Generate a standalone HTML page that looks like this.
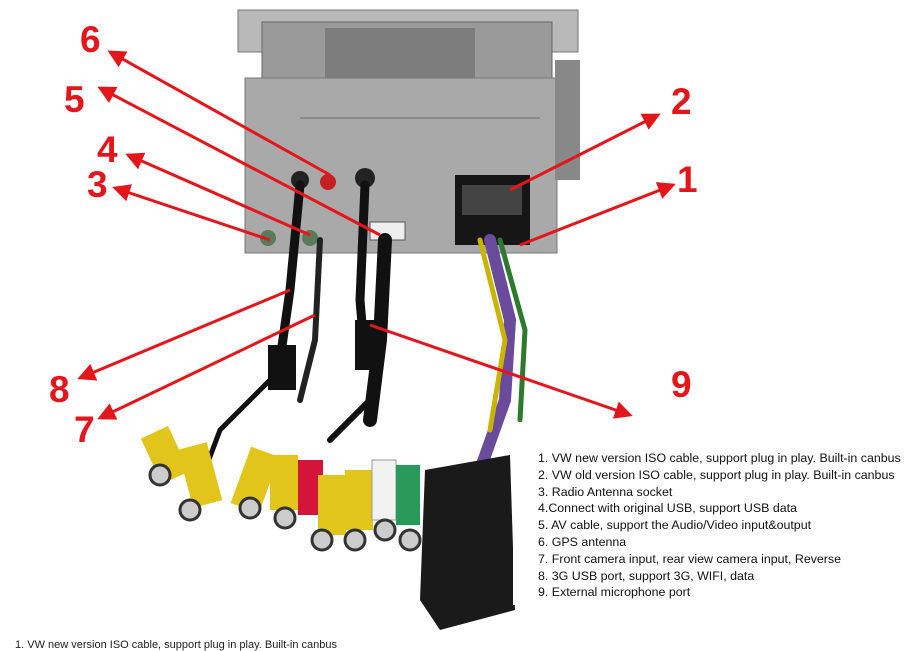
<!DOCTYPE html>
<html><head><meta charset="utf-8"><style>
body{margin:0;width:920px;height:645px;overflow:hidden;background:#fff;font-family:"Liberation Sans",sans-serif}
svg{position:absolute;left:0;top:0}
.n{font:bold 37px "Liberation Sans",sans-serif;fill:#e3161b}
#box{position:absolute;left:513px;top:422px;width:407px;height:183px;background:#fff;font-size:12.4px;line-height:16.8px;color:#111;padding:28px 0 0 25px;box-sizing:border-box}
</style></head><body>
<svg width="920" height="645" viewBox="0 0 920 645">
<rect x="238" y="10" width="340" height="42" fill="#b9b9b9" stroke="#777"/>
<rect x="262" y="22" width="290" height="58" fill="#9a9a9a" stroke="#666"/>
<rect x="325" y="28" width="150" height="50" fill="#7d7d7d"/>
<rect x="245" y="78" width="312" height="175" fill="#a9a9a9" stroke="#777"/>
<rect x="555" y="60" width="25" height="120" fill="#888"/>
<line x1="300" y1="118" x2="540" y2="118" stroke="#888" stroke-width="2"/>
<rect x="455" y="175" width="75" height="70" fill="#161616"/>
<rect x="462" y="185" width="60" height="30" fill="#444"/>
<rect x="370" y="222" width="35" height="18" fill="#eee" stroke="#555"/>
<circle cx="328" cy="182" r="8" fill="#c52020"/>
<circle cx="300" cy="180" r="9" fill="#222"/>
<circle cx="365" cy="178" r="10" fill="#222"/>
<circle cx="268" cy="238" r="8" fill="#5a7a5a"/>
<circle cx="310" cy="238" r="8" fill="#5a7a5a"/>
<g fill="none" stroke-linecap="round">
<path d="M300 185 L290 290 L280 360" stroke="#111" stroke-width="9"/>
<path d="M365 185 L360 300 L365 360" stroke="#111" stroke-width="9"/>
<path d="M385 240 L380 340 L370 420" stroke="#111" stroke-width="14"/>
<path d="M320 240 L315 340 L300 400" stroke="#222" stroke-width="6"/>
<path d="M490 240 L510 320 L505 400 L480 470" stroke="#6a4a9a" stroke-width="12"/>
<path d="M500 240 L525 330 L520 420" stroke="#2d7a2d" stroke-width="5"/>
<path d="M480 240 L505 340 L490 430" stroke="#cbb400" stroke-width="5"/>
<path d="M290 360 L220 430 L190 510" stroke="#111" stroke-width="5"/>
<path d="M370 400 L330 440" stroke="#111" stroke-width="6"/>
</g>
<rect x="268" y="345" width="28" height="45" fill="#111"/>
<rect x="355" y="320" width="20" height="50" fill="#111"/>
<g>
<rect x="150" y="430" width="30" height="50" fill="#e2c51b" transform="rotate(-25 165 455)"/>
<rect x="185" y="445" width="30" height="60" fill="#e2c51b" transform="rotate(-15 200 475)"/>
<rect x="240" y="450" width="30" height="60" fill="#e2c51b" transform="rotate(20 255 480)"/>
<rect x="270" y="455" width="28" height="55" fill="#e2c51b"/>
<rect x="298" y="460" width="25" height="55" fill="#d4143a"/>
<rect x="318" y="475" width="28" height="60" fill="#e2c51b"/>
<rect x="345" y="470" width="28" height="60" fill="#e2c51b"/>
<rect x="372" y="460" width="24" height="60" fill="#f2f2f2" stroke="#999"/>
<rect x="396" y="465" width="24" height="60" fill="#2a9a5a"/>
<circle cx="160" cy="475" r="10" fill="#ccc" stroke="#333" stroke-width="3"/>
<circle cx="190" cy="510" r="10" fill="#ccc" stroke="#333" stroke-width="3"/>
<circle cx="250" cy="508" r="10" fill="#ccc" stroke="#333" stroke-width="3"/>
<circle cx="285" cy="518" r="10" fill="#ccc" stroke="#333" stroke-width="3"/>
<circle cx="322" cy="540" r="10" fill="#ccc" stroke="#333" stroke-width="3"/>
<circle cx="355" cy="540" r="10" fill="#ccc" stroke="#333" stroke-width="3"/>
<circle cx="385" cy="530" r="10" fill="#ccc" stroke="#333" stroke-width="3"/>
<circle cx="410" cy="540" r="10" fill="#ccc" stroke="#333" stroke-width="3"/>
</g>
<path d="M425 470 L510 455 L515 610 L440 630 L420 600 Z" fill="#1a1a1a"/>
<defs><marker id="a" markerWidth="6" markerHeight="6" refX="5" refY="3" orient="auto"><path d="M0 0 L6 3 L0 6 Z" fill="#e3161b"/></marker></defs>
<g stroke="#e3161b" stroke-width="3" marker-end="url(#a)">
<line x1="330" y1="175" x2="110" y2="52"/>
<line x1="380" y1="235" x2="100" y2="88"/>
<line x1="310" y1="235" x2="128" y2="155"/>
<line x1="270" y1="240" x2="115" y2="188"/>
<line x1="510" y1="190" x2="658" y2="115"/>
<line x1="520" y1="245" x2="673" y2="185"/>
<line x1="290" y1="290" x2="80" y2="378"/>
<line x1="315" y1="315" x2="100" y2="418"/>
<line x1="370" y1="325" x2="630" y2="415"/>
</g>
<text class="n" x="80" y="52">6</text>
<text class="n" x="64" y="112">5</text>
<text class="n" x="97" y="162">4</text>
<text class="n" x="87" y="197">3</text>
<text class="n" x="671" y="114">2</text>
<text class="n" x="677" y="192">1</text>
<text class="n" x="49" y="402">8</text>
<text class="n" x="74" y="442">7</text>
<text class="n" x="671" y="397">9</text>
</svg>
<div id="box">1. VW new version ISO cable, support plug in play. Built-in canbus<br>2. VW old version ISO cable, support plug in play. Built-in canbus<br>3. Radio Antenna socket<br>4.Connect with original USB, support USB data<br>5. AV cable, support the Audio/Video input&amp;output<br>6. GPS antenna<br>7. Front camera input, rear view camera input, Reverse<br>8. 3G USB port, support 3G, WIFI, data<br>9. External microphone port</div>
<div style="position:absolute;left:15px;top:639px;font-size:11px;color:#222">1. VW new version ISO cable, support plug in play. Built-in canbus</div>
</body></html>
